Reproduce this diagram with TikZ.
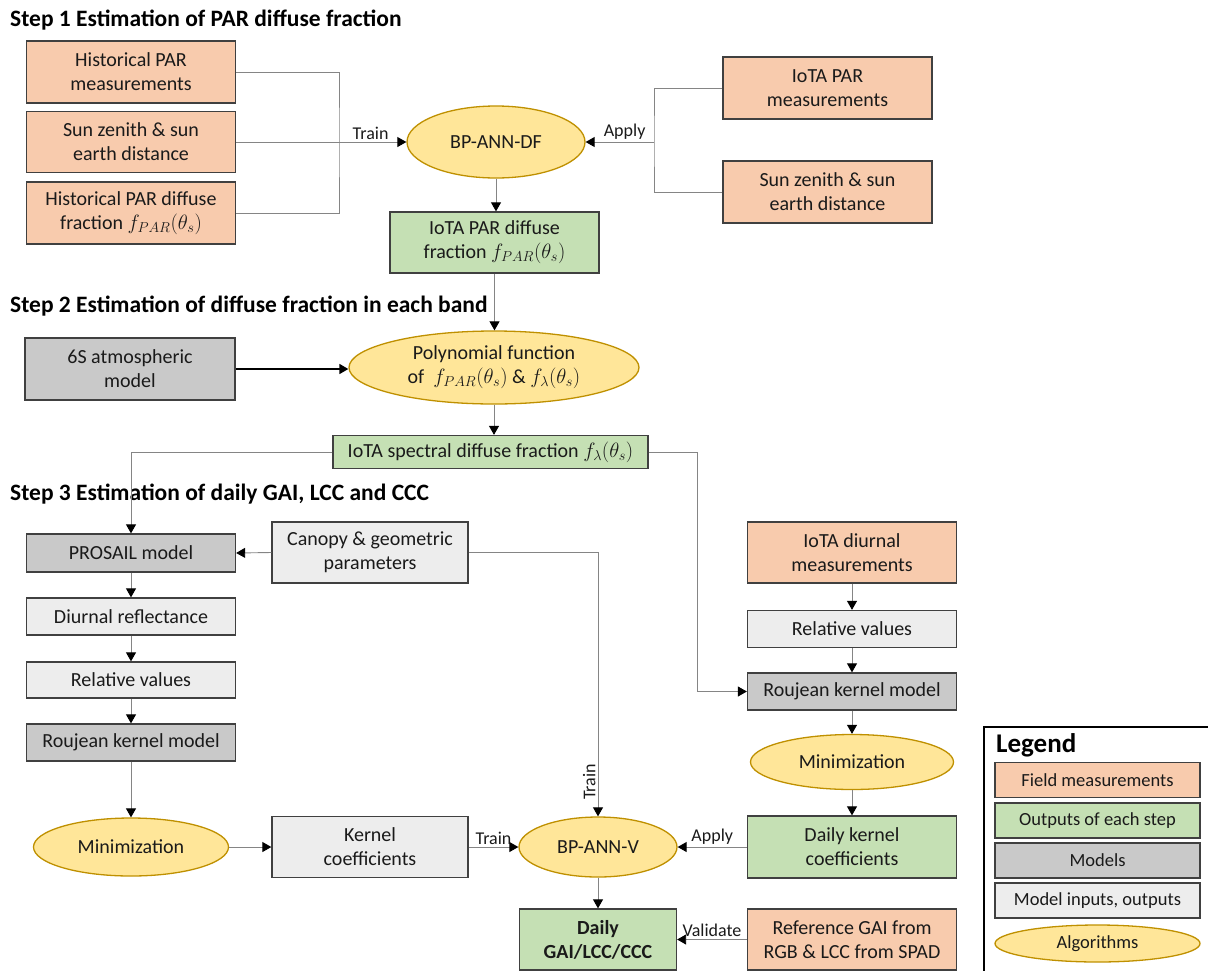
\documentclass[tikz,border=0pt]{standalone}
\usepackage{fontspec}
\setmainfont{Carlito}
\usetikzlibrary{shapes.geometric,arrows.meta}
\definecolor{fieldc}{HTML}{F8CBAD}
\definecolor{outc}{HTML}{C5E0B4}
\definecolor{modc}{HTML}{C9C9C9}
\definecolor{ioc}{HTML}{EDEDED}
\definecolor{algoc}{HTML}{FFE699}
\definecolor{algoline}{HTML}{BF9000}
\definecolor{edgec}{HTML}{404040}
\definecolor{linec}{HTML}{858585}
\definecolor{txtc}{HTML}{1A1A1A}
\tikzset{
  base/.style={draw=edgec, line width=1.3pt, inner sep=0pt, align=center, text=txtc,
    font=\fontsize{20}{24}\selectfont},
  sz/.style 2 args={minimum width=#1, minimum height=#2},
  field/.style={base, rectangle, fill=fieldc},
  outbox/.style={base, rectangle, fill=outc},
  modbox/.style={base, rectangle, fill=modc},
  iobox/.style={base, rectangle, fill=ioc},
  algo/.style={base, ellipse, fill=algoc, draw=algoline, inner xsep=-15pt, inner ysep=-4pt},
  legitem/.style={font=\fontsize{18.5}{22}\selectfont},
  conn/.style={draw=linec, line width=0.9pt, -{Triangle[color=black, length=9pt, width=10pt]}},
  plain/.style={draw=linec, line width=0.9pt},
  lab/.style={font=\fontsize{18}{21}\selectfont, text=txtc, inner sep=2pt},
  steptitle/.style={anchor=west, font=\fontsize{23.5}{28}\selectfont\bfseries, inner sep=0pt},
}
\begin{document}
\begin{tikzpicture}[x=1pt, y=-1pt]
\useasboundingbox (0,0) rectangle (1208,970);
\clip (0,0) rectangle (1208,970);

% step 1
\node[steptitle] (st1) at (10,20) {Step 1 Estimation of PAR diffuse fraction};
\node[field, sz={209pt}{62pt}] (hpar) at (131,72) {Historical PAR\\measurements};
\node[field, sz={209pt}{61pt}] (sunz) at (131,142) {Sun zenith \& sun\\earth distance};
\node[field, sz={209pt}{62pt}] (hdf) at (131,213) {Historical PAR diffuse\\fraction $f_{PAR}(\theta_s)$};
\node[algo, sz={178pt}{72pt}] (bpdf) at (496,142) {BP-ANN-DF};
\node[field, sz={209pt}{62pt}] (ipar) at (827.5,88) {IoTA PAR\\measurements};
\node[field, sz={209pt}{62pt}] (sunz2) at (827.5,192) {Sun zenith \& sun\\earth distance};
\node[outbox, sz={209pt}{61pt}] (ipardf) at (494.5,242.5) {IoTA PAR diffuse\\fraction $f_{PAR}(\theta_s)$};
\coordinate (jtrain) at (339,142);
\coordinate (japply) at (654,142);
\draw[plain] (hpar.east) -| (jtrain) |- (hdf.east);
\draw[conn] (sunz.east) -- (bpdf.west) node[lab, pos=0.79, above]{Train};
\draw[plain] (ipar.west) -| (japply) |- (sunz2.west);
\draw[conn] (japply) -- (bpdf.east) node[lab, pos=0.43, above]{Apply};
\draw[conn] (bpdf.south) -- (bpdf.south |- ipardf.north);

% step 2
\node[steptitle] (st2) at (10,306) {Step 2 Estimation of diffuse fraction in each band};
\node[modbox, sz={210pt}{62pt}] (s6) at (130,369) {6S atmospheric\\model};
\node[algo, sz={290pt}{73pt}] (poly) at (494,367.5) {Polynomial function\\of \ $f_{PAR}(\theta_s)$ \& $f_{\lambda}(\theta_s)$};
\node[outbox, sz={315pt}{33pt}] (spec) at (490.5,452) {IoTA spectral diffuse fraction $f_{\lambda}(\theta_s)$};
\draw[conn] (ipardf.south) -- (ipardf.south |- poly.north);
\draw[line width=1.6pt, -{Triangle[length=9pt, width=10pt]}] (s6.east) -- (s6.east -| poly.west);
\draw[conn] (poly.south) -- (poly.south |- spec.north);

% step 3
\node[steptitle] (st3) at (10,494) {Step 3 Estimation of daily GAI, LCC and CCC};
\node[modbox, sz={209pt}{38pt}] (prosail) at (131,553) {PROSAIL model};
\node[iobox, sz={196pt}{61pt}] (canopy) at (370,552.5) {Canopy \& geometric\\parameters};
\node[iobox, sz={209pt}{37pt}] (diurnal) at (131,616.5) {Diurnal reflectance};
\node[iobox, sz={209pt}{36pt}] (relL) at (131,680) {Relative values};
\node[modbox, sz={209pt}{37pt}] (rouL) at (131,742.5) {Roujean kernel model};
\node[algo, sz={195pt}{58pt}] (minL) at (131,847) {Minimization};
\node[iobox, sz={196pt}{61pt}] (kcoef) at (370,847) {Kernel\\coefficients};
\node[algo, sz={158pt}{60pt}] (bpv) at (598,847) {BP-ANN-V};
\node[outbox, sz={157pt}{61pt}] (dgai) at (598,939.5) {\bfseries Daily\\\bfseries GAI/LCC/CCC};

\node[field, sz={209pt}{61pt}] (iotad) at (852,552.5) {IoTA diurnal\\measurements};
\node[iobox, sz={209pt}{37pt}] (relR) at (852,629) {Relative values};
\node[modbox, sz={209pt}{37pt}] (rouR) at (852,691.5) {Roujean kernel model};
\node[algo, sz={203pt}{55pt}] (minR) at (852,762) {Minimization};
\node[outbox, sz={209pt}{62pt}] (dkc) at (852,847) {Daily kernel\\coefficients};
\node[field, sz={209pt}{61pt}] (refgai) at (852,939.5) {Reference GAI from\\RGB \& LCC from SPAD};

\coordinate (jspec) at (697,452);
\draw[conn] (spec.west) -| (prosail.north);
\draw[conn] (spec.east) -- (jspec) |- (rouR.west);
\draw[conn] (canopy.west) -- (prosail.east);
\draw[conn] (canopy.east) -| (bpv.north) node[lab, pos=0.935, rotate=90, above]{Train};
\draw[conn] (prosail) -- (diurnal);
\draw[conn] (diurnal) -- (relL);
\draw[conn] (relL) -- (rouL);
\draw[conn] (rouL) -- (minL);
\draw[conn] (minL) -- (kcoef);
\draw[conn] (kcoef) -- (bpv) node[lab, midway, above]{Train};
\draw[conn] (bpv) -- (dgai);
\draw[conn] (iotad) -- (relR);
\draw[conn] (relR) -- (rouR);
\draw[conn] (rouR) -- (minR);
\draw[conn] (minR) -- (dkc);
\draw[conn] (dkc) -- (bpv) node[lab, midway, above]{Apply};
\draw[conn] (refgai) -- (dgai) node[lab, midway, above]{Validate};

% legend
\draw[line width=1.5pt] (984,727) rectangle (1240,1000);
\node[anchor=west, inner sep=0pt, font=\fontsize{27}{31}\selectfont\bfseries] (legt) at (996,745) {Legend};
\node[field, legitem, sz={205pt}{35pt}] (lgfield) at (1097.5,780) {Field measurements};
\node[outbox, legitem, sz={205pt}{35pt}] (lgout) at (1097.5,820.5) {Outputs of each step};
\node[modbox, legitem, sz={205pt}{35pt}] (lgmod) at (1097.5,860.5) {Models};
\node[iobox, legitem, sz={205pt}{35pt}] (lgio) at (1097.5,900.5) {Model inputs, outputs};
\node[algo, legitem, sz={205pt}{37pt}] (lgalgo) at (1097.5,943.5) {Algorithms};
\end{tikzpicture}
\end{document}
